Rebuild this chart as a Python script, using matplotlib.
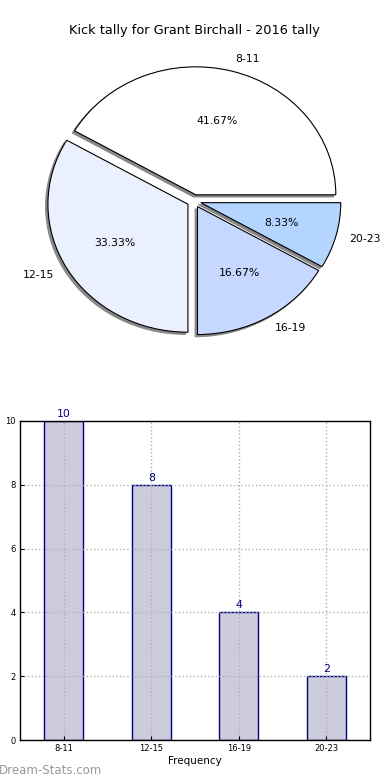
import matplotlib
matplotlib.use("Agg")
import matplotlib.pyplot as plt

categories = ["8-11", "12-15", "16-19", "20-23"]
counts = [10, 8, 4, 2]
pie_colors = ["#ffffff", "#eaf0fe", "#c6d8ff", "#b4d5ff"]
title = "Kick tally for Grant Birchall - 2016 tally"

fig = plt.figure(figsize=(3.9, 7.8), dpi=100)

# Pie
ax1 = fig.add_axes([19/390, 1 - 361/780, 350/390, 320/780])
wedges, texts, autotexts = ax1.pie(
    counts, labels=categories, colors=pie_colors, autopct="%.2f%%",
    startangle=0, explode=[0.05] * 4,
    shadow=dict(ox=-0.012, oy=-0.012, color="#888888", alpha=1.0),
    wedgeprops=dict(edgecolor="black", linewidth=0.8),
    textprops=dict(fontsize=7.8))
ax1.set_aspect("auto")
ax1.set_xlim(-1.25, 1.25)
ax1.set_ylim(-1.25, 1.25)
ax1.set_title(title, fontsize=9.3, pad=5)

# Bar
ax2 = fig.add_axes([20/390, 1 - 740/780, 350/390, 319/780])
x = list(range(len(categories)))
bars = ax2.bar(x, counts, width=0.45, color="#ccccdd", edgecolor="navy", linewidth=1.0, zorder=2)
for xi, v in zip(x, counts):
    ax2.text(xi, v + 0.07, str(v), ha="center", va="bottom", color="navy", fontsize=7.8)
ax2.set_xlim(-0.5, 3.5)
ax2.set_ylim(0, 10)
ax2.set_xticks(x)
ax2.set_xticklabels(categories)
ax2.set_yticks([0, 2, 4, 6, 8, 10])
ax2.tick_params(labelsize=6, length=3, direction="in", pad=3)
ax2.grid(True, linestyle=":", color="#b0b0b0", linewidth=1.0, zorder=2.5)
ax2.set_axisbelow(False)
for s in ax2.spines.values():
    s.set_zorder(4)
    s.set_linewidth(1.0)
ax2.set_xlabel("Frequency", fontsize=7.5, labelpad=2)
ax2.set_ylabel("Total Kick Tally", fontsize=7.5, labelpad=5)

fig.text(-0.004, 0.004, "Dream-Stats.com", fontsize=8.5, color="#999999", ha="left", va="bottom")

fig.savefig("out.png", dpi=100)
